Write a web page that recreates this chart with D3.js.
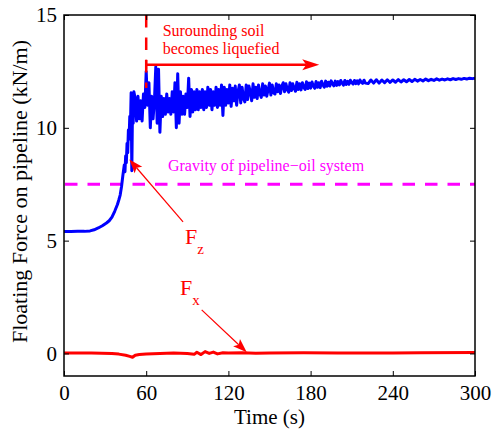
<!DOCTYPE html>
<html>
<head>
<meta charset="utf-8">
<script src="https://cdn.jsdelivr.net/npm/d3@7/dist/d3.min.js"></script>
<style>
  html, body { margin: 0; padding: 0; background: #fff; }
  svg { display: block; }
  text { font-family: "Liberation Serif", "Times New Roman", serif; }
</style>
</head>
<body>
<svg id="chart" width="493" height="429"></svg>
<script>
// ---- axis ticks ----
const xTicks = [0, 60, 120, 180, 240, 300];
const yTicks = [0, 5, 10, 15];

// ---- vertical floating force Fz, [time (s), force (kN/m)] ----
const fzStartup = [
  [0, 5.40], [5, 5.40], [10, 5.41], [15, 5.41], [19, 5.43], [22, 5.48], [25, 5.56],
  [28, 5.66], [31, 5.78], [33, 5.88], [35, 6.04], [37, 6.30], [39, 6.60], [40, 6.80],
  [41, 7.02], [42, 7.40], [43, 7.90], [44, 8.35], [44.5, 8.05], [45, 8.75], [45.5, 8.45],
  [46, 9.30], [46.5, 8.90], [47, 9.90], [47.5, 9.50], [48, 10.5], [48.5, 10.1],
  [49, 11.55], [49.5, 8.10], [50, 10.8], [50.5, 10.2], [51, 11.6]
];
const fzOscillation = [
  [52, 11.3], [53, 10.3], [54, 11.4], [55, 10.4], [56, 11.2], [57, 10.3], [58, 11.5],
  [59, 10.9], [60, 12.5], [61, 11.0], [62, 12.0], [63, 10.0], [64, 11.4], [65, 10.4],
  [66, 11.2], [67, 12.7], [68, 10.2], [69, 12.6], [70, 9.8], [71, 11.4], [72, 10.5],
  [73, 11.3], [74, 10.6], [75, 11.5], [76, 10.7], [77, 11.3], [78, 10.6], [79, 11.6],
  [80, 10.7], [81, 12.0], [82, 10.0], [83, 12.4], [84, 10.2], [85, 11.6], [86, 10.6],
  [87, 11.4], [88, 10.6], [89, 11.5], [90, 10.9], [91, 12.2], [92, 10.5], [93, 11.7],
  [94, 10.7], [95, 11.6], [96, 10.8], [97, 11.7], [98, 10.8], [99, 11.6], [100, 10.9],
  [101, 11.7], [102, 10.8], [103, 11.6], [104, 10.9], [105, 11.8], [106, 11.0],
  [107, 11.7], [108, 10.8], [109, 11.6], [110, 11.0], [111, 11.8], [112, 10.9],
  [113, 11.7], [114, 11.0], [115, 11.9], [116, 10.55], [117, 11.8], [118, 11.0],
  [119, 11.7], [120, 11.1], [121, 11.9]
];
const fzSettling = [
  [122, 10.95], [123, 11.75], [124, 11.2], [125, 11.85], [126, 11.0], [127, 11.6],
  [128, 11.9], [129, 11.1], [130, 11.8], [131, 11.3], [132, 11.15], [133, 11.9],
  [134, 11.25], [135, 11.85], [136, 11.6], [137, 11.2], [138, 11.95], [139, 11.35],
  [140, 11.8], [141, 11.3], [142, 11.9], [143, 11.5], [144, 11.35], [145, 11.95],
  [146, 11.45], [147, 11.85], [148, 11.4], [149, 11.7], [150, 11.98], [151, 11.45],
  [152, 11.9], [153, 11.55], [154, 11.5], [155, 11.95], [156, 11.6], [157, 11.9],
  [158, 11.52], [159, 11.85], [160, 12.0], [161, 11.6], [162, 11.95], [163, 11.7],
  [164, 11.58], [165, 12.0], [166, 11.65], [167, 11.95], [168, 11.75], [169, 11.62],
  [170, 12.02], [171, 11.7], [172, 11.95], [173, 11.68], [174, 12.0], [175, 11.8],
  [176, 11.7], [177, 12.04], [178, 11.74], [179, 11.98], [180, 11.76], [181, 12.03],
  [182, 11.85], [183, 11.75], [184, 12.05], [185, 11.8], [186, 12.0], [187, 11.78],
  [188, 12.06], [189, 11.9], [190, 11.8], [191, 12.07], [192, 11.84], [193, 12.02],
  [194, 11.85], [195, 12.08], [196, 11.95], [197, 11.86], [198, 12.07], [199, 11.88],
  [200, 12.05], [201, 11.9], [202, 12.1], [203, 11.98], [204, 11.89], [205, 12.1],
  [206, 11.92], [207, 12.06], [208, 11.93], [209, 12.11], [210, 12.0], [211, 11.94],
  [212, 12.1], [213, 11.96], [214, 12.08], [215, 11.95], [216, 12.12], [217, 12.02],
  [218, 11.97], [219, 12.11], [220, 11.98],
  [222, 11.96], [224, 12.12], [226, 11.98], [228, 12.13], [230, 11.98], [232, 12.12],
  [234, 12.0], [236, 12.13], [238, 12.01], [240, 12.12], [242, 12.02], [244, 12.14],
  [246, 12.03], [248, 12.13], [250, 12.04], [252, 12.14], [254, 12.05], [256, 12.15],
  [258, 12.07], [260, 12.14], [262, 12.08], [264, 12.16], [266, 12.09], [268, 12.15],
  [270, 12.1], [272, 12.17], [274, 12.11], [276, 12.16], [278, 12.12], [280, 12.17],
  [282, 12.13], [284, 12.18], [286, 12.14], [288, 12.18], [290, 12.15], [292, 12.19],
  [294, 12.16], [296, 12.2], [298, 12.18], [300, 12.2]
];

// ---- horizontal force Fx, [time (s), force (kN/m)] ----
const fxSamples = [
  [0, 0.02], [20, 0.02], [35, 0.0], [40, -0.03], [45, -0.08], [48, -0.13], [50, -0.17],
  [52, -0.08], [55, -0.05], [60, -0.02], [70, 0.0], [80, 0.02], [90, 0.0], [95, -0.04],
  [97, 0.05], [100, -0.05], [103, 0.08], [106, 0.0], [109, 0.06], [112, -0.02],
  [116, 0.03], [120, 0.02], [130, 0.03], [140, 0.01], [150, 0.02], [175, 0.03],
  [200, 0.02], [240, 0.02], [260, 0.03], [300, 0.04]
];

// ---- reference levels ----
const gravityLevel = 7.5;        // pipeline-oil self weight (kN/m)
const liquefactionTime = 60;     // s
const liquefactionArrowEnd = 186.3;
const liquefactionArrowLevel = 12.8;

// ---- layout ----
const SERIF = "'Liberation Serif','Times New Roman',serif";
const svg = d3.select("#chart");
const x = d3.scaleLinear().domain([0, 300]).range([64, 475]);
const y = d3.scaleLinear().domain([-1, 15]).range([376, 15]);
const RED = "#ff0000", BLUE = "#0000ff", MAGENTA = "#ff00ff";

svg.append("defs").append("clipPath").attr("id", "plot-clip")
  .append("rect")
  .attr("x", x(0)).attr("y", y(15))
  .attr("width", x(300) - x(0)).attr("height", y(-1) - y(15));

const plot = svg.append("g").attr("clip-path", "url(#plot-clip)");
const line = d3.line().x(d => x(d[0])).y(d => y(d[1]));

// gravity reference
plot.append("line")
  .attr("x1", x(0)).attr("x2", x(300))
  .attr("y1", y(gravityLevel)).attr("y2", y(gravityLevel))
  .attr("stroke", MAGENTA).attr("stroke-width", 3)
  .attr("stroke-dasharray", "12.5,10").attr("stroke-dashoffset", -1);

// horizontal force
plot.append("path")
  .datum(fxSamples)
  .attr("d", line)
  .attr("fill", "none").attr("stroke", RED)
  .attr("stroke-width", 3).attr("stroke-linejoin", "round");

// vertical force
const fzAll = fzStartup.concat(fzOscillation, fzSettling);
plot.append("path")
  .datum(fzAll)
  .attr("d", line)
  .attr("fill", "none").attr("stroke", BLUE)
  .attr("stroke-width", 3).attr("stroke-linejoin", "round");

// liquefaction onset marker
plot.append("line")
  .attr("x1", x(liquefactionTime)).attr("x2", x(liquefactionTime))
  .attr("y1", y(15)).attr("y2", y(11.76))
  .attr("stroke", RED).attr("stroke-width", 2.5)
  .attr("stroke-dasharray", "12.5,10");

// arrow helper: shaft plus notched head
function arrow(t1, v1, t2, v2, opt) {
  const x1 = x(t1), y1 = y(v1), x2 = x(t2), y2 = y(v2);
  const ang = Math.atan2(y2 - y1, x2 - x1);
  const ux = Math.cos(ang), uy = Math.sin(ang);
  const px = -uy, py = ux;
  const L = opt.head, Wd = opt.half, N = opt.notch;
  const bx = x2 - ux * L, by = y2 - uy * L;
  const nx = x2 - ux * (L - N), ny = y2 - uy * (L - N);
  svg.append("line")
    .attr("x1", x1).attr("y1", y1).attr("x2", nx).attr("y2", ny)
    .attr("stroke", RED).attr("stroke-width", opt.width);
  svg.append("path")
    .attr("d", `M${x2},${y2}L${bx + px * Wd},${by + py * Wd}L${nx},${ny}L${bx - px * Wd},${by - py * Wd}Z`)
    .attr("fill", RED);
}

arrow(liquefactionTime, liquefactionArrowLevel, liquefactionArrowEnd, liquefactionArrowLevel,
  { width: 2.5, head: 17, half: 5.5, notch: 4 });
// small end cap at the liquefaction start
svg.append("line")
  .attr("x1", x(liquefactionTime)).attr("x2", x(liquefactionTime))
  .attr("y1", y(liquefactionArrowLevel) - 5).attr("y2", y(liquefactionArrowLevel) + 5)
  .attr("stroke", RED).attr("stroke-width", 2);

arrow(86.9, 5.83, 47.7, 8.6, { width: 1.2, head: 14, half: 5, notch: 3 });
arrow(100.5, 1.93, 133.4, 0.05, { width: 1.2, head: 14, half: 5, notch: 3 });

// annotations
const note = svg.append("g").attr("fill", RED).attr("font-size", 16);
note.append("text").attr("x", x(72.0)).attr("y", y(14.07)).text("Surounding soil");
note.append("text").attr("x", x(72.0)).attr("y", y(13.27)).text("becomes liquefied");

svg.append("text")
  .attr("x", x(75.9)).attr("y", y(8.1))
  .attr("fill", MAGENTA).attr("font-size", 16)
  .text("Gravity of pipeline\u2212oil system");

function forceLabel(t, v, sub) {
  const tx = svg.append("text").attr("x", x(t)).attr("y", y(v))
    .attr("fill", RED).attr("font-size", 22);
  tx.append("tspan").text("F");
  tx.append("tspan").attr("dy", 10).attr("font-size", 15).text(sub);
}
forceLabel(88.3, 4.86, "z");
forceLabel(84.7, 2.59, "x");

// ---- axes ----
const axisGroups = [];

const gx = svg.append("g").attr("transform", `translate(0,${y(-1)})`)
  .call(d3.axisBottom(x).tickValues(xTicks).tickSizeInner(-5).tickSizeOuter(0));
gx.selectAll("text").attr("y", 24).attr("dy", 0);
axisGroups.push(gx);

axisGroups.push(svg.append("g").attr("transform", `translate(0,${y(15)})`)
  .call(d3.axisTop(x).tickValues(xTicks).tickSizeInner(-5).tickSizeOuter(0).tickFormat("")));

axisGroups.push(svg.append("g").attr("transform", `translate(${x(0)},0)`)
  .call(d3.axisLeft(y).tickValues(yTicks).tickSizeInner(-5).tickSizeOuter(0).tickPadding(7)));

axisGroups.push(svg.append("g").attr("transform", `translate(${x(300)},0)`)
  .call(d3.axisRight(y).tickValues(yTicks).tickSizeInner(-5).tickSizeOuter(0).tickFormat("")));

axisGroups.forEach(g => {
  g.attr("font-size", 21).attr("font-family", SERIF);
  g.select(".domain").remove();
  g.selectAll(".tick line").attr("stroke", "#000").attr("stroke-width", 1);
  g.selectAll(".tick text").attr("fill", "#000");
});

svg.append("rect")
  .attr("x", x(0)).attr("y", y(15))
  .attr("width", x(300) - x(0)).attr("height", y(-1) - y(15))
  .attr("fill", "none").attr("stroke", "#000").attr("stroke-width", 1.5);

// axis titles
svg.append("text")
  .attr("x", (x(0) + x(300)) / 2).attr("y", 424)
  .attr("text-anchor", "middle").attr("font-size", 21)
  .text("Time (s)");

svg.append("text")
  .attr("transform", `translate(27,${(348 + 35) / 2}) rotate(-90)`)
  .attr("text-anchor", "middle").attr("font-size", 22)
  .text("Floating Force on pipeline (kN/m)");
</script>
</body>
</html>
